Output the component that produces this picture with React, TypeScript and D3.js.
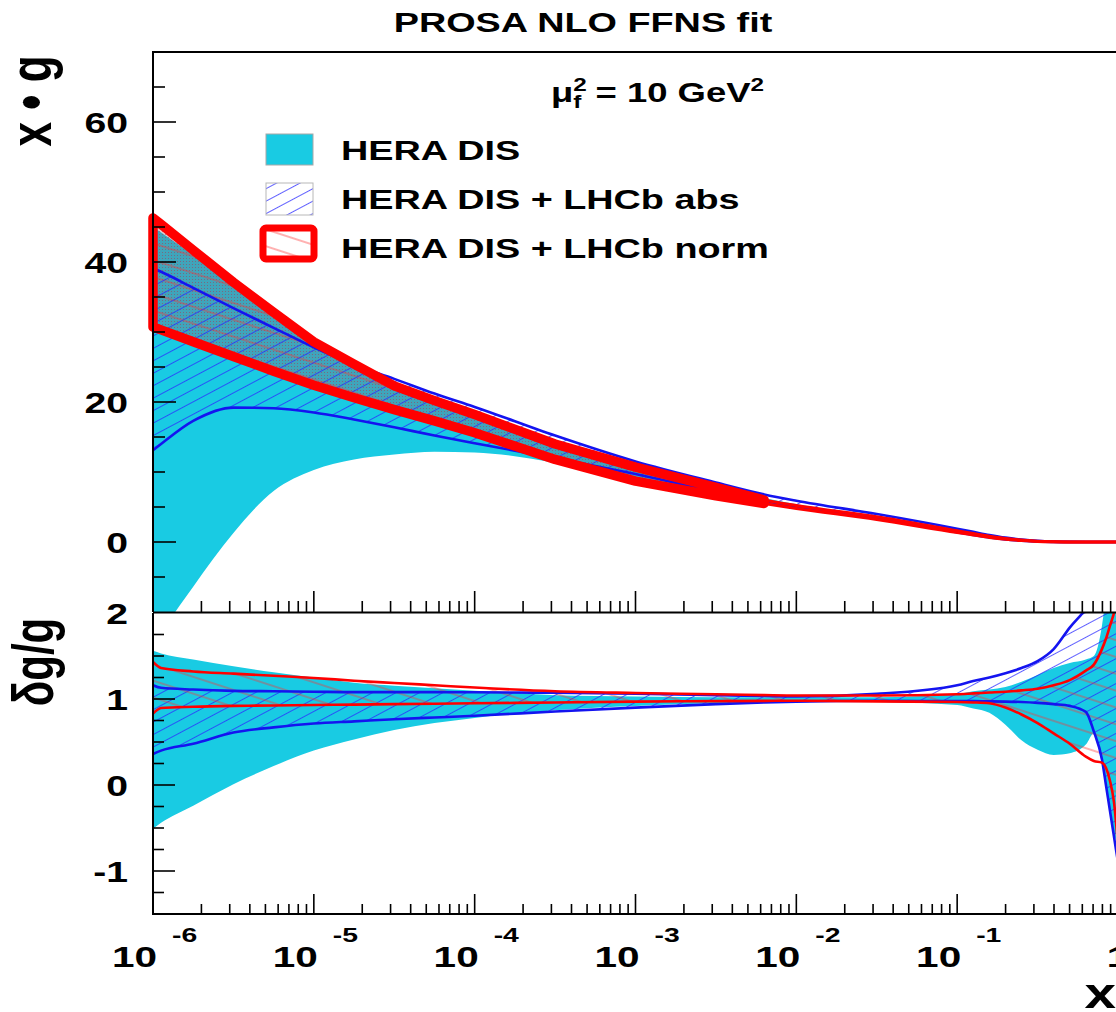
import React from 'react';
import * as d3 from 'd3';

// x grid, as log10(x)
const xExp = [-6, -5.95, -5.75, -5.5, -5.25, -5, -4.75, -4.5, -4.25, -4, -3.5, -3, -2.5, -2.2, -2, -1.5, -1, -0.9, -0.8, -0.7, -0.6, -0.5, -0.4, -0.3, -0.2, -0.15, -0.1, -0.075, -0.05, -0.025, 0];

// upper pad: x*g bands
const heraUp = [45, 44.2, 41, 36.6, 32.0, 28.3, 25.2, 22.6, 20.5, 18.5, 14.5, 11.0, 8.0, 6.3, 5.4, 3.7, 1.7, 1.3, 0.9, 0.55, 0.3, 0.15, 0.06, 0.02, 0, 0, 0, 0, 0, 0, 0];
const heraLo = [-16, -13.5, -6.4, 1.3, 7.3, 10.3, 11.8, 12.5, 12.9, 12.8, 11.3, 8.8, 6.8, 5.6, 4.8, 3.2, 1.3, 0.95, 0.6, 0.35, 0.18, 0.06, 0.01, 0, 0, 0, 0, 0, 0, 0, 0];
const absUp = [39.1, 38.6, 36.3, 33.4, 30.6, 27.8, 25.3, 23.3, 21.2, 19.3, 15.2, 11.5, 8.5, 6.8, 5.9, 4.0, 1.9, 1.45, 1.0, 0.62, 0.35, 0.16, 0.06, 0.02, 0, 0, 0, 0, 0, 0, 0];
const absLo = [13.1, 14.0, 17.3, 19.2, 19.1, 18.5, 17.5, 16.4, 15.2, 14.1, 12.0, 9.7, 7.2, 5.9, 5.0, 3.4, 1.4, 1.0, 0.65, 0.38, 0.2, 0.07, 0.02, 0, 0, 0, 0, 0, 0, 0, 0];
const normUp = [46.3, 45.4, 41.7, 37.1, 32.8, 28.6, 25.4, 22.3, 20.2, 18.2, 14.0, 10.7, 7.8, 6.0, 5.2, 3.6, 1.6, 1.2, 0.82, 0.5, 0.28, 0.12, 0.04, 0.01, 0, 0, 0, 0, 0, 0, 0];
const normLo = [30.7, 30.3, 28.6, 26.5, 24.4, 22.4, 20.6, 18.9, 17.3, 15.6, 11.8, 8.7, 6.6, 5.5, 4.8, 3.2, 1.35, 1.0, 0.65, 0.38, 0.2, 0.07, 0.02, 0, 0, 0, 0, 0, 0, 0, 0];

// lower pad: relative uncertainties
const heraRUp = [1.56, 1.53, 1.46, 1.38, 1.31, 1.25, 1.19, 1.155, 1.125, 1.095, 1.045, 1.03, 1.02, 1.02, 1.02, 1.02, 1.06, 1.09, 1.11, 1.14, 1.2, 1.28, 1.36, 1.42, 1.46, 1.5, 1.85, 2.2, 2.5, 2.7, 2.9];
const heraRLo = [-0.51, -0.44, -0.24, 0.01, 0.22, 0.40, 0.53, 0.64, 0.72, 0.78, 0.87, 0.92, 0.95, 0.96, 0.97, 0.965, 0.93, 0.89, 0.84, 0.70, 0.52, 0.41, 0.35, 0.37, 0.47, 0.6, 0.25, 0.0, -0.3, -0.55, -0.75];
const absRUp = [1.16, 1.13, 1.11, 1.095, 1.09, 1.085, 1.08, 1.08, 1.08, 1.078, 1.072, 1.062, 1.045, 1.035, 1.03, 1.06, 1.16, 1.21, 1.25, 1.3, 1.36, 1.44, 1.58, 1.83, 2.05, 2.2, 2.4, 2.5, 2.6, 2.7, 2.8];
const absRLo = [0.36, 0.40, 0.48, 0.61, 0.67, 0.715, 0.74, 0.765, 0.785, 0.805, 0.855, 0.9, 0.94, 0.96, 0.97, 0.98, 0.975, 0.975, 0.972, 0.97, 0.965, 0.955, 0.94, 0.92, 0.85, 0.62, 0.3, 0.0, -0.3, -0.6, -0.9];
const normRUp = [1.43, 1.36, 1.32, 1.295, 1.27, 1.245, 1.213, 1.186, 1.16, 1.133, 1.09, 1.07, 1.055, 1.045, 1.04, 1.04, 1.055, 1.065, 1.075, 1.085, 1.1, 1.12, 1.16, 1.22, 1.33, 1.4, 1.58, 1.7, 1.85, 2.0, 2.2];
const normRLo = [0.83, 0.895, 0.91, 0.92, 0.925, 0.93, 0.935, 0.94, 0.945, 0.95, 0.96, 0.97, 0.975, 0.978, 0.98, 0.972, 0.965, 0.96, 0.95, 0.9, 0.82, 0.72, 0.6, 0.48, 0.33, 0.28, 0.26, 0.2, 0.05, -0.2, -0.7];

// last grid index of the heavy-outlined part of the norm band
const normHeavyEnd = 13;

// axis labels
const topTickLabels = [0, 20, 40, 60];
const botTickLabels = [-1, 0, 1, 2];
const decadeExps = [-6, -5, -4, -3, -2, -1];
const legendLabels = ['HERA DIS', 'HERA DIS + LHCb abs', 'HERA DIS + LHCb norm'];

const W = 1116;
const H = 1012;
const SX = 1.35;
const FONT = "'Liberation Sans', Arial, Helvetica, sans-serif";
const CYAN = '#19cbe3';
const BLUE = '#1414f0';
const RED = '#ff0000';

const xs = xExp.map((e) => Math.pow(10, e));
const idx = d3.range(xs.length);

const x = d3.scaleLog().domain([1e-6, 1]).range([153, 1118]);
const yTop = d3.scaleLinear().domain([-10, 70]).range([612, 52]);
const yBot = d3.scaleLinear().domain([-1.5, 2]).range([914, 613]);

function areaPath(lo: number[], hi: number[], y: d3.ScaleLinear<number, number>) {
  return d3
    .area<number>()
    .x((i) => x(xs[i]))
    .y0((i) => y(lo[i]))
    .y1((i) => y(hi[i]))
    .curve(d3.curveMonotoneX)(idx) as string;
}

function linePath(v: number[], y: d3.ScaleLinear<number, number>) {
  return d3
    .line<number>()
    .x((i) => x(xs[i]))
    .y((i) => y(v[i]))
    .curve(d3.curveMonotoneX)(idx) as string;
}

function heavyOutline() {
  const pts: [number, number][] = [];
  for (let i = 0; i <= normHeavyEnd; i++) pts.push([x(xs[i]), yTop(normUp[i])]);
  for (let i = normHeavyEnd; i >= 0; i--) pts.push([x(xs[i]), yTop(normLo[i])]);
  return d3.line().curve(d3.curveLinearClosed)(pts) as string;
}

function heavyFill() {
  const sub = idx.slice(0, normHeavyEnd + 1);
  return d3
    .area<number>()
    .x((i) => x(xs[i]))
    .y0((i) => yTop(normLo[i]))
    .y1((i) => yTop(normUp[i]))(sub) as string;
}

type TProps = {
  x: number;
  y: number;
  size: number;
  anchor?: 'start' | 'middle' | 'end';
  rotate?: boolean;
  children: React.ReactNode;
};

function T({ x: tx, y: ty, size, anchor = 'start', rotate = false, children }: TProps) {
  return (
    <text
      transform={`translate(${tx},${ty}) scale(${SX},1)${rotate ? ' rotate(-90)' : ''}`}
      fontSize={size}
      fontWeight="bold"
      fontFamily={FONT}
      textAnchor={anchor}
      fill="#000"
    >
      {children}
    </text>
  );
}

export default function App() {
  const xTicks = x.ticks();
  const isDecade = (v: number) => Math.abs(Math.log10(v) - Math.round(Math.log10(v))) < 1e-6;
  const topYTicks = d3.range(-5, 70, 5);
  const botYTicks = d3.range(-1.25, 2, 0.25);

  return (
    <svg width={W} height={H} style={{ position: 'absolute', left: 0, top: 0, background: '#fff' }}>
      <defs>
        <clipPath id="clipTop">
          <rect x={153} y={52} width={970} height={560} />
        </clipPath>
        <clipPath id="clipBot">
          <rect x={153} y={613} width={970} height={301} />
        </clipPath>
        <pattern id="hatchBlue" patternUnits="userSpaceOnUse" width={24} height={11} patternTransform="rotate(-28)">
          <line x1={0} y1={5.5} x2={24} y2={5.5} stroke="#2a2aff" strokeWidth={1} strokeOpacity={0.75} />
        </pattern>
        <pattern id="hatchRed" patternUnits="userSpaceOnUse" width={24} height={16} patternTransform="rotate(18)">
          <line x1={0} y1={8} x2={24} y2={8} stroke="#ff3030" strokeWidth={1} strokeOpacity={0.75} />
        </pattern>
        <pattern id="mesh" patternUnits="userSpaceOnUse" width={3} height={3}>
          <rect x={0} y={0} width={3} height={3} fill="#9a4e62" fillOpacity={0.3} />
          <rect x={0} y={0} width={1} height={1} fill="#b03048" fillOpacity={0.5} />
        </pattern>
      </defs>

      {/* upper pad */}
      <g clipPath="url(#clipTop)">
        <path d={areaPath(heraLo, heraUp, yTop)} fill={CYAN} />
        <path d={heavyFill()} fill="url(#mesh)" />
        <path d={areaPath(normLo, normUp, yTop)} fill="url(#hatchRed)" />
        <path d={areaPath(absLo, absUp, yTop)} fill="url(#hatchBlue)" />
        <path d={linePath(absUp, yTop)} fill="none" stroke={BLUE} strokeWidth={2.6} />
        <path d={linePath(absLo, yTop)} fill="none" stroke={BLUE} strokeWidth={2.6} />
        <path d={linePath(normUp, yTop)} fill="none" stroke={RED} strokeWidth={3} />
        <path d={linePath(normLo, yTop)} fill="none" stroke={RED} strokeWidth={3} />
      </g>
      <path d={heavyOutline()} fill="none" stroke={RED} strokeWidth={9.5} strokeLinejoin="round" />

      {/* lower pad */}
      <g clipPath="url(#clipBot)">
        <path d={areaPath(heraRLo, heraRUp, yBot)} fill={CYAN} />
        <path d={areaPath(absRLo, absRUp, yBot)} fill="url(#hatchBlue)" />
        <path d={areaPath(normRLo, normRUp, yBot)} fill="url(#hatchRed)" />
        <path d={linePath(absRUp, yBot)} fill="none" stroke={BLUE} strokeWidth={2.6} />
        <path d={linePath(absRLo, yBot)} fill="none" stroke={BLUE} strokeWidth={2.6} />
        <path d={linePath(normRUp, yBot)} fill="none" stroke={RED} strokeWidth={2.6} />
        <path d={linePath(normRLo, yBot)} fill="none" stroke={RED} strokeWidth={2.6} />
      </g>

      {/* frames */}
      <g stroke="#000" strokeWidth={2} fill="none">
        <path d={`M153,612 V52 H1125`} />
        <line x1={153} y1={612.5} x2={1125} y2={612.5} />
        <path d={`M153,613 V914 H1125`} />
      </g>

      {/* ticks */}
      <g stroke="#000" strokeWidth={1.6}>
        {xTicks.map((t, i) => {
          const px = x(t);
          const major = isDecade(t);
          return (
            <g key={i}>
              <line x1={px} x2={px} y1={612} y2={612 - (major ? 21 : 11)} />
              <line x1={px} x2={px} y1={914} y2={914 - (major ? 20 : 10)} />
            </g>
          );
        })}
        {topYTicks.map((v, i) => (
          <line key={'ty' + i} x1={153} x2={153 + (v % 20 === 0 ? 23 : 12)} y1={yTop(v)} y2={yTop(v)} />
        ))}
        {botYTicks.map((v, i) => (
          <line key={'by' + i} x1={153} x2={153 + (Number.isInteger(v) ? 22 : 11)} y1={yBot(v)} y2={yBot(v)} />
        ))}
      </g>

      {/* tick labels */}
      {topTickLabels.map((v) => (
        <T key={'tl' + v} x={128} y={yTop(v) + 11} size={29} anchor="end">
          {v}
        </T>
      ))}
      {botTickLabels.map((v) => (
        <T key={'bl' + v} x={128} y={yBot(v) + 11} size={29} anchor="end">
          {v}
        </T>
      ))}
      {decadeExps.map((e) => {
        const px = x(Math.pow(10, e));
        return (
          <g key={'xl' + e}>
            <T x={px + 4} y={967} size={30} anchor="end">
              10
            </T>
            <T x={px + 19} y={942} size={21}>
              {`-${Math.abs(e)}`}
            </T>
          </g>
        );
      })}
      <T x={x(1)} y={967} size={30} anchor="middle">
        1
      </T>

      {/* axis titles */}
      <T x={51} y={101} size={44} anchor="middle" rotate>
        x • g
      </T>
      <T x={53} y={662} size={42} anchor="middle" rotate>
        δg/g
      </T>
      <T x={1116} y={1008} size={42} anchor="end">
        x
      </T>

      {/* title and scale */}
      <T x={583} y={32} size={28} anchor="middle">
        PROSA NLO FFNS fit
      </T>
      <text
        transform={`translate(551,102) scale(${SX},1)`}
        fontSize={27}
        fontWeight="bold"
        fontFamily={FONT}
      >
        μ
        <tspan fontSize={18} dy={-11}>2</tspan>
        <tspan fontSize={18} dx={-10} dy={17}>f</tspan>
        <tspan dx={3} dy={-6}> = 10 GeV</tspan>
        <tspan fontSize={18} dy={-11}>2</tspan>
      </text>

      {/* legend */}
      <rect x={266} y={134} width={47} height={31} fill={CYAN} stroke="#a8a8a8" strokeWidth={1} />
      <rect x={266} y={183} width={47} height={32} fill="url(#hatchBlue)" stroke="#b8b8b8" strokeWidth={1} />
      <rect x={263} y={228} width={51} height={31} rx={3} fill="url(#hatchRed)" stroke={RED} strokeWidth={7} />
      {legendLabels.map((l, i) => (
        <T key={l} x={341} y={160 + i * 49} size={28}>
          {l}
        </T>
      ))}
    </svg>
  );
}
